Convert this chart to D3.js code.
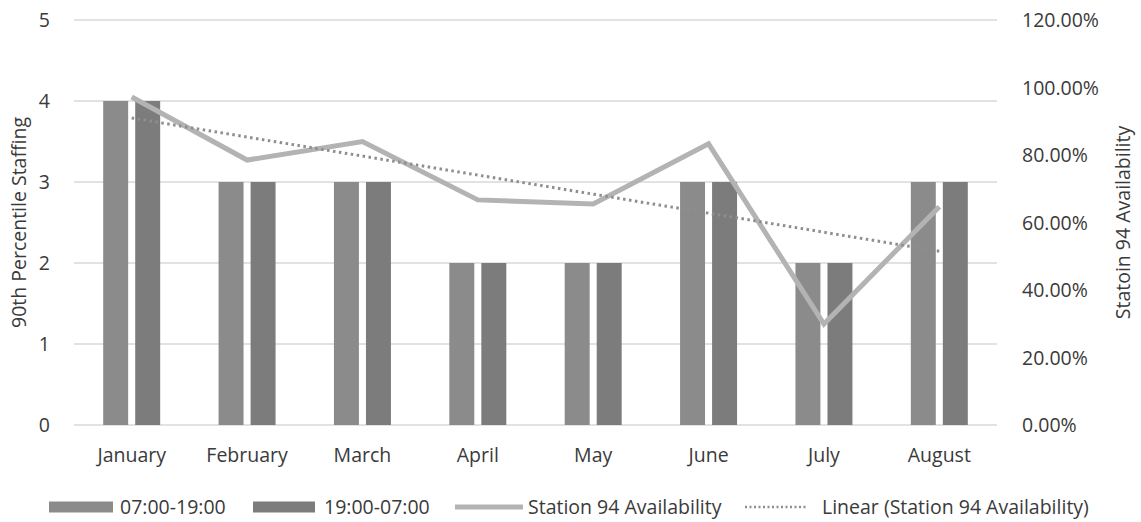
<!DOCTYPE html>
<html>
<head>
<meta charset="utf-8">
<script src="https://cdn.jsdelivr.net/npm/d3@7"></script>
<style>
  body { margin: 0; background: #fff; }
  text { font-family: "Open Sans", "Noto Sans", sans-serif; fill: #3a3a3a; }
</style>
</head>
<body>
<div id="chart"></div>
<script>
/**
 * DATA
 * */
const months = ["January", "February", "March", "April", "May", "June", "July", "August"];
const dayShift = [4, 3, 3, 2, 2, 3, 2, 3];          // 07:00-19:00
const nightShift = [4, 3, 3, 2, 2, 3, 2, 3];        // 19:00-07:00
const availability = [97.2, 78.5, 84.0, 66.7, 65.5, 83.3, 29.9, 64.7]; // percent
const leftTicks = [0, 1, 2, 3, 4, 5];
const rightTicks = [0, 20, 40, 60, 80, 100, 120];
const seriesNames = ["07:00-19:00", "19:00-07:00"];

/**
 * CONSTANTS
 * */
const width = 1141,
  height = 522,
  margin = { top: 20, bottom: 97, left: 74, right: 144 };

const fontSize = 19.5;
const barColors = ["#8b8b8b", "#7c7c7c"];
const lineColor = "#b3b3b3";
const trendColor = "#8e8e8e";

// least squares fit, like the spreadsheet's linear trendline
function linearFit(vals) {
  const mx = d3.mean(vals, (d, i) => i);
  const my = d3.mean(vals);
  let num = 0, den = 0;
  vals.forEach((v, i) => { num += (i - mx) * (v - my); den += (i - mx) ** 2; });
  const slope = num / den;
  return vals.map((v, i) => my + slope * (i - mx));
}

const svg = d3.select("#chart")
  .append("svg")
  .attr("width", width)
  .attr("height", height);

const x0 = d3.scaleBand()
  .domain(months)
  .range([margin.left, width - margin.right])
  .paddingInner(0.506)
  .paddingOuter(0.253);

const x1 = d3.scaleBand()
  .domain(seriesNames)
  .range([0, x0.bandwidth()])
  .paddingInner(0.22);

const yLeft = d3.scaleLinear()
  .domain([0, 5])
  .range([height - margin.bottom, margin.top]);

const yRight = d3.scaleLinear()
  .domain([0, 120])
  .range([height - margin.bottom, margin.top]);

// gridlines
svg.append("g")
  .selectAll("line")
  .data(leftTicks)
  .join("line")
  .attr("x1", margin.left)
  .attr("x2", width - margin.right)
  .attr("y1", d => yLeft(d))
  .attr("y2", d => yLeft(d))
  .attr("stroke", "#d9d9d9")
  .attr("stroke-width", 1.5);

// left axis
const leftAxis = svg.append("g")
  .attr("transform", `translate(${margin.left - 21},0)`)
  .call(d3.axisLeft(yLeft).tickValues(leftTicks).tickSize(0).tickFormat(d3.format("d")));
leftAxis.select(".domain").remove();
leftAxis.selectAll("text").attr("font-size", fontSize).attr("dy", "0.35em");

// right axis
const rightAxis = svg.append("g")
  .attr("transform", `translate(${width - margin.right + 22},0)`)
  .call(d3.axisRight(yRight).tickValues(rightTicks).tickSize(0).tickFormat(d => d3.format(".2f")(d) + "%"));
rightAxis.select(".domain").remove();
rightAxis.selectAll("text").attr("font-size", fontSize).attr("dy", "0.35em");

// bottom axis
const bottomAxis = svg.append("g")
  .attr("transform", `translate(0,${height - margin.bottom + 20})`)
  .call(d3.axisBottom(x0).tickSize(0));
bottomAxis.select(".domain").remove();
bottomAxis.selectAll("text").attr("font-size", fontSize);

// bars
const series = [dayShift, nightShift];
svg.append("g")
  .selectAll("g")
  .data(series)
  .join("g")
  .attr("fill", (d, i) => barColors[i])
  .selectAll("rect")
  .data((d, i) => d.map((v, j) => ({ month: months[j], value: v, key: seriesNames[i] })))
  .join("rect")
  .attr("x", d => x0(d.month) + x1(d.key))
  .attr("y", d => yLeft(d.value))
  .attr("width", x1.bandwidth())
  .attr("height", d => yLeft(0) - yLeft(d.value));

const cx = m => x0(m) + x0.bandwidth() / 2;

// availability line
svg.append("path")
  .datum(availability)
  .attr("fill", "none")
  .attr("stroke", lineColor)
  .attr("stroke-width", 5)
  .attr("stroke-linejoin", "miter")
  .attr("d", d3.line().x((d, i) => cx(months[i])).y(d => yRight(d)));

// trendline
const trend = linearFit(availability);
svg.append("path")
  .datum(trend)
  .attr("fill", "none")
  .attr("stroke", trendColor)
  .attr("stroke-width", 3)
  .attr("stroke-dasharray", "2.5,3.5")
  .attr("d", d3.line().x((d, i) => cx(months[i])).y(d => yRight(d)));

// axis titles
svg.append("text")
  .attr("transform", `translate(26,${(yLeft(0) + yLeft(5)) / 2}) rotate(-90)`)
  .attr("text-anchor", "middle")
  .attr("font-size", fontSize)
  .text("90th Percentile Staffing");

svg.append("text")
  .attr("transform", `translate(1130,${(yLeft(0) + yLeft(5)) / 2}) rotate(-90)`)
  .attr("text-anchor", "middle")
  .attr("font-size", fontSize)
  .text("Statoin 94 Availability");

// legend
const legendY = 507;
const legend = svg.append("g");
const legendItems = [
  { label: "07:00-19:00", type: "rect", color: barColors[0], x: 49, w: 64, tx: 120 },
  { label: "19:00-07:00", type: "rect", color: barColors[1], x: 253, w: 62, tx: 324 },
  { label: "Station 94 Availability", type: "line", color: lineColor, x: 455, w: 68, tx: 528 },
  { label: "Linear (Station 94 Availability)", type: "dot", color: trendColor, x: 745, w: 63, tx: 822 }
];
legendItems.forEach(item => {
  if (item.type === "rect") {
    legend.append("rect")
      .attr("x", item.x).attr("y", legendY - 5.5)
      .attr("width", item.w).attr("height", 11)
      .attr("fill", item.color);
  } else {
    legend.append("line")
      .attr("x1", item.x).attr("x2", item.x + item.w)
      .attr("y1", legendY).attr("y2", legendY)
      .attr("stroke", item.color)
      .attr("stroke-width", item.type === "line" ? 5 : 2.5)
      .attr("stroke-dasharray", item.type === "dot" ? "2,2.5" : null);
  }
  legend.append("text")
    .attr("x", item.tx)
    .attr("y", legendY)
    .attr("dy", "0.35em")
    .attr("font-size", fontSize)
    .text(item.label);
});
</script>
</body>
</html>
